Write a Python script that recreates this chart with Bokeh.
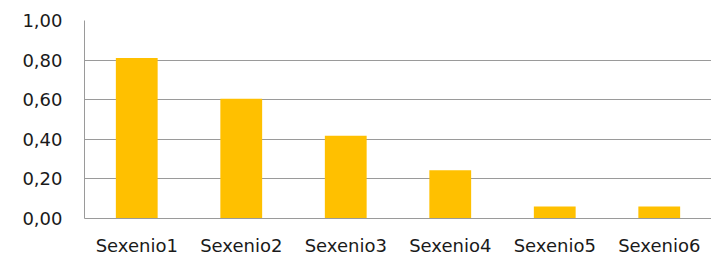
from bokeh.plotting import figure
from bokeh.models import FactorRange, Range1d, FixedTicker, CustomJSTickFormatter
from bokeh.embed import file_html
from bokeh.resources import INLINE

categories = ["Sexenio1", "Sexenio2", "Sexenio3", "Sexenio4", "Sexenio5", "Sexenio6"]
values = [0.81, 0.605, 0.418, 0.244, 0.06, 0.06]
y_ticks = [0.0, 0.2, 0.4, 0.6, 0.8, 1.0]

p = figure(width=711, height=258, output_backend="svg", toolbar_location=None,
           x_range=FactorRange(factors=categories, range_padding=0),
           y_range=Range1d(0, 1.0),
           min_border_left=84, min_border_right=0, min_border_top=20, min_border_bottom=40)
p.outline_line_color = None
p.background_fill_color = "white"

p.vbar(x=categories, top=values, width=0.4, fill_color="#FFC000", line_color=None)

p.xgrid.grid_line_color = None
p.ygrid.grid_line_color = "#9a9a9a"
p.ygrid.grid_line_width = 1
p.ygrid.ticker = FixedTicker(ticks=y_ticks)

p.yaxis.ticker = FixedTicker(ticks=y_ticks)
p.yaxis.formatter = CustomJSTickFormatter(code="return tick.toFixed(2).replace('.', ',');")
for ax in (p.xaxis[0], p.yaxis[0]):
    ax.axis_line_color = "#9a9a9a"
    ax.major_tick_line_color = None
    ax.minor_tick_line_color = None
    ax.major_tick_out = 0
    ax.major_tick_in = 0
    ax.minor_tick_out = 0
    ax.major_label_text_font = "DejaVu Sans"
    ax.major_label_text_font_size = "18px"
    ax.major_label_text_color = "#1a1a1a"
p.yaxis.major_label_standoff = 22
p.xaxis.major_label_standoff = 16

open("out.html", "w").write(file_html(p, INLINE))
